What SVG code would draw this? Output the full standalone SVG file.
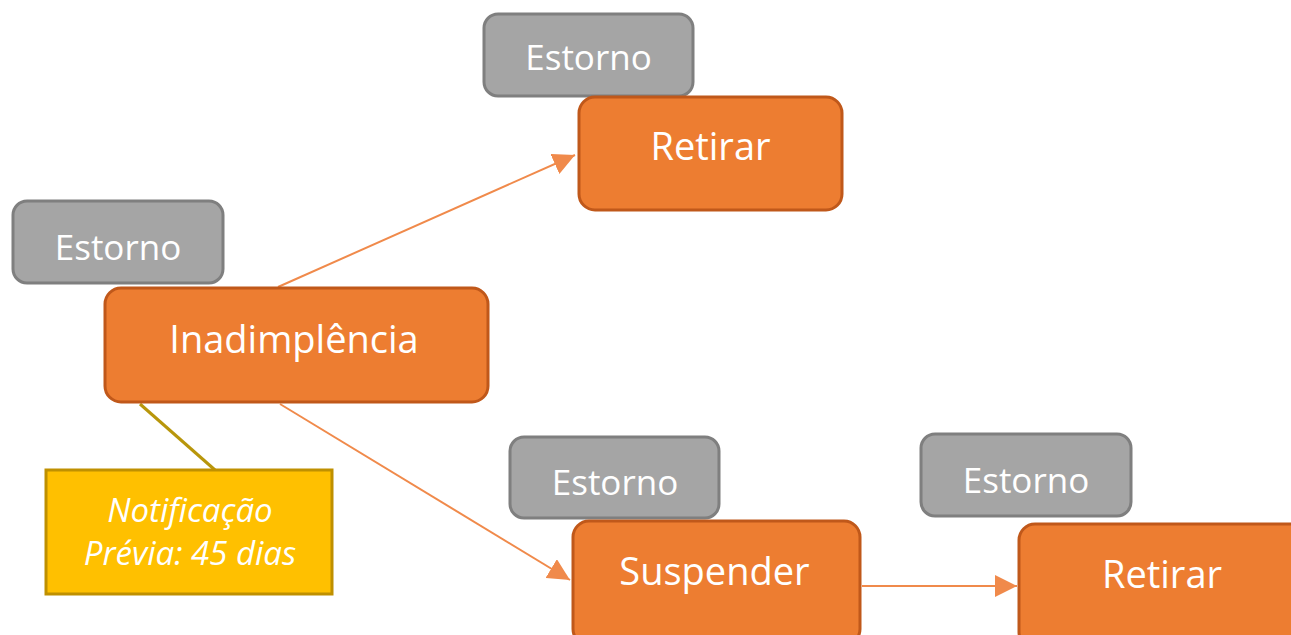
<svg xmlns="http://www.w3.org/2000/svg" width="1291" height="635" viewBox="0 0 1291 635">
<defs>
<style>
.g{fill:#A5A5A5;stroke:#7F7F7F;stroke-width:3}
.o{fill:#ED7D31;stroke:#C0581A;stroke-width:3}
.y{fill:#FFC000;stroke:#BF9000;stroke-width:3}
.t{font-family:"Open Sans","Liberation Sans",sans-serif;fill:#FFFFFF;text-anchor:middle}
.e{font-size:35px}
.n{font-size:38px}
.i{font-size:33px;font-style:italic}
.c{stroke:#F08A4B;stroke-width:2;fill:none}
</style>
<marker id="ahb" viewBox="0 0 10 10" refX="10" refY="5" markerWidth="22" markerHeight="22" markerUnits="userSpaceOnUse" orient="auto">
<path d="M0,0 L10,5 L0,10 z" fill="#F08A4B"/>
</marker>
</defs>
<rect width="1291" height="635" fill="#FFFFFF"/>
<g id="connectors">
<line class="c" x1="278" y1="287" x2="575" y2="155" marker-end="url(#ahb)"/>
<line class="c" x1="280" y1="404" x2="570" y2="580" marker-end="url(#ahb)"/>
<line class="c" x1="862" y1="586" x2="1017" y2="586" marker-end="url(#ahb)"/>
<line x1="140" y1="404" x2="215" y2="470" stroke="#B8960B" stroke-width="3"/>
</g>
<g id="estorno1">
<rect class="g" x="484" y="14" width="209" height="82" rx="14"/>
<text class="t e" x="588.5" y="70">Estorno</text>
</g>
<g id="retirar1">
<rect class="o" x="579" y="97" width="263" height="113" rx="16"/>
<text class="t n" x="710.5" y="160">Retirar</text>
</g>
<g id="estorno2">
<rect class="g" x="13" y="201" width="210" height="82" rx="14"/>
<text class="t e" x="118" y="260">Estorno</text>
</g>
<g id="inadimplencia">
<rect class="o" x="105" y="288" width="383" height="114" rx="16"/>
<text class="t n" x="294" y="353">Inadimplência</text>
</g>
<g id="notificacao">
<rect class="y" x="46" y="470" width="286" height="124"/>
<text class="t i" x="190" y="522">Notificação</text>
<text class="t i" x="190" y="565">Prévia: 45 dias</text>
</g>
<g id="estorno3">
<rect class="g" x="510" y="437" width="209" height="81" rx="14"/>
<text class="t e" x="615" y="495">Estorno</text>
</g>
<g id="suspender">
<rect class="o" x="573" y="521" width="287" height="124" rx="16"/>
<text class="t n" x="714.5" y="585">Suspender</text>
</g>
<g id="estorno4">
<rect class="g" x="921" y="434" width="210" height="82" rx="14"/>
<text class="t e" x="1026" y="493">Estorno</text>
</g>
<g id="retirar2">
<rect class="o" x="1019" y="524" width="290" height="124" rx="16"/>
<text class="t n" x="1162" y="588">Retirar</text>
</g>
</svg>
